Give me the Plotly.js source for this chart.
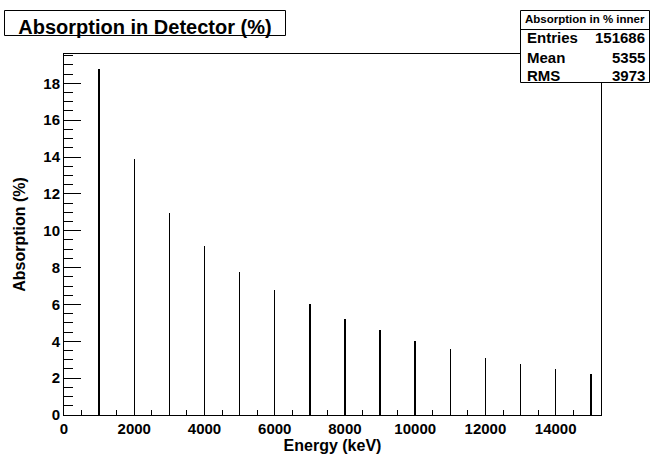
<!DOCTYPE html>
<html>
<head>
<meta charset="utf-8">
<script src="https://cdn.plot.ly/plotly-3.0.1.min.js"></script>
<style>
  html, body { margin: 0; padding: 0; background: #fff; }
  #chart { width: 650px; height: 454px; }
</style>
</head>
<body>
<div id="chart"></div>
<script>
// Photon energies (keV) and the fraction absorbed in the detector (%)
const energies = [1000, 2000, 3000, 4000, 5000, 6000, 7000, 8000,
                  9000, 10000, 11000, 12000, 13000, 14000, 15000];
const absorption = [18.76, 13.87, 10.98, 9.15, 7.76, 6.77, 6.02, 5.21,
                    4.61, 4.03, 3.56, 3.09, 2.77, 2.49, 2.21];

// Axis tick positions and labels
const xTickVals = [0, 2000, 4000, 6000, 8000, 10000, 12000, 14000];
const xTickLabels = ["0", "2000", "4000", "6000", "8000", "10000", "12000", "14000"];
const yTickVals = [0, 2, 4, 6, 8, 10, 12, 14, 16, 18];
const yTickLabels = ["0", "2", "4", "6", "8", "10", "12", "14", "16", "18"];

// Statistics box contents
const statsHeader = "Absorption in % inner";
const statsLabels = ["Entries", "Mean", "RMS"];
const statsValues = ["151686", "5355", "3973"];

const W = 650, H = 454;
const M = { l: 64, r: 49, t: 54, b: 39 };
const PW = W - M.l - M.r, PH = H - M.t - M.b;
// pixel -> paper coordinates
const px = x => (x - M.l) / PW;
const py = y => (H - M.b - y) / PH;

const FONT = "Liberation Sans, Arial, Helvetica, sans-serif";
const bold = s => "<b>" + s + "</b>";

const trace = {
  type: "bar",
  x: energies,
  y: absorption,
  width: 42,
  marker: { color: "#000", line: { width: 0 } },
  hoverinfo: "x+y"
};

const annotations = [];
// stats header
annotations.push({
  xref: "paper", yref: "paper", x: px(585), y: py(19.5),
  xanchor: "center", yanchor: "middle", showarrow: false,
  text: bold(statsHeader),
  font: { family: FONT, size: 11.5, color: "#000" }
});
const rowY = [38, 57, 75];
statsLabels.forEach((lab, i) => {
  annotations.push({
    xref: "paper", yref: "paper", x: px(525), y: py(rowY[i]),
    xanchor: "left", yanchor: "middle", showarrow: false,
    text: bold(lab),
    font: { family: FONT, size: 15, color: "#000" }
  });
  annotations.push({
    xref: "paper", yref: "paper", x: px(647), y: py(rowY[i]),
    xanchor: "right", yanchor: "middle", showarrow: false,
    text: bold(statsValues[i]),
    font: { family: FONT, size: 15, color: "#000" }
  });
});

const shapes = [
  // title frame
  { type: "rect", xref: "paper", yref: "paper",
    x0: px(4.5), x1: px(285.5), y0: py(10.5), y1: py(35.5),
    line: { color: "#000", width: 1 }, fillcolor: "rgba(0,0,0,0)" },
  // stats box
  { type: "rect", xref: "paper", yref: "paper",
    x0: px(520.5), x1: px(649.5), y0: py(10.5), y1: py(82.5),
    line: { color: "#000", width: 1 }, fillcolor: "#fff" },
  { type: "line", xref: "paper", yref: "paper",
    x0: px(520.5), x1: px(649.5), y0: py(29.5), y1: py(29.5),
    line: { color: "#000", width: 1 } }
];

const layout = {
  width: W, height: H,
  margin: M,
  paper_bgcolor: "#fff",
  plot_bgcolor: "#fff",
  showlegend: false,
  bargap: 0,
  font: { family: FONT, color: "#000" },
  title: {
    text: bold("Absorption in Detector (%)"),
    font: { family: FONT, size: 20, color: "#000" },
    xref: "paper", yref: "paper",
    x: px(145), y: py(23), xanchor: "center", yanchor: "middle"
  },
  xaxis: {
    range: [0, 15290],
    tickmode: "array", tickvals: xTickVals, ticktext: xTickLabels.map(bold),
    ticks: "inside", ticklen: 11, tickwidth: 1, tickcolor: "#000",
    minor: { tickmode: "linear", tick0: 0, dtick: 500, ticks: "inside", ticklen: 5.5, tickwidth: 1, tickcolor: "#000" },
    showline: true, linecolor: "#000", linewidth: 1, mirror: true,
    showgrid: false, zeroline: false,
    tickfont: { family: FONT, size: 15, color: "#000" },
    ticklabelstandoff: 0,
    title: { text: bold("Energy (keV)"), font: { family: FONT, size: 16, color: "#000" }, standoff: 2 }
  },
  yaxis: {
    range: [0, 19.59],
    tickmode: "array", tickvals: yTickVals, ticktext: yTickLabels.map(bold),
    ticks: "inside", ticklen: 17, tickwidth: 1, tickcolor: "#000",
    minor: { tickmode: "linear", tick0: 0, dtick: 0.5, ticks: "inside", ticklen: 8.5, tickwidth: 1, tickcolor: "#000" },
    showline: true, linecolor: "#000", linewidth: 1, mirror: true,
    showgrid: false, zeroline: false,
    tickfont: { family: FONT, size: 15, color: "#000" },
    title: { text: bold("Absorption (%)"), font: { family: FONT, size: 16, color: "#000" }, standoff: 13 }
  },
  shapes: shapes,
  annotations: annotations
};

Plotly.newPlot("chart", [trace], layout, { staticPlot: true, displayModeBar: false });
</script>
</body>
</html>
